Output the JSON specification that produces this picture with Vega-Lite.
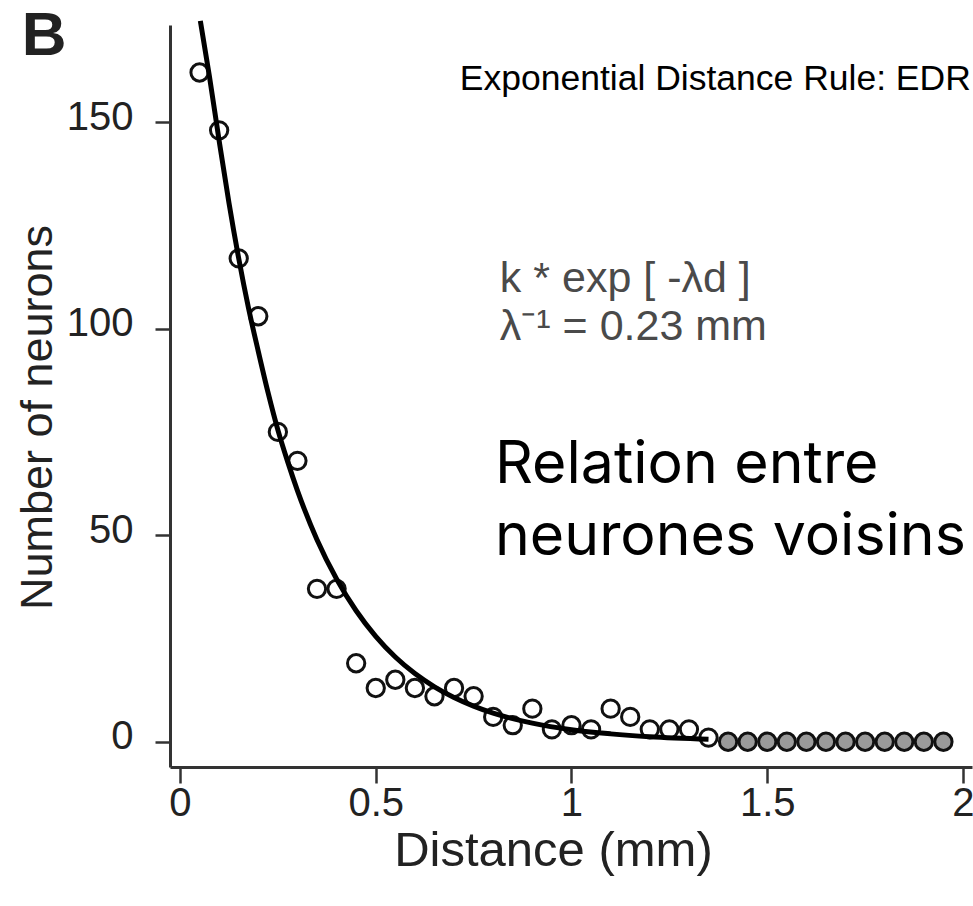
{
  "$schema": "https://vega.github.io/schema/vega-lite/v6.json",
  "width": 802,
  "height": 742,
  "autosize": {"type": "none"},
  "padding": {"left": 170, "top": 25, "right": 1, "bottom": 139},
  "background": "white",
  "config": {"view": {"stroke": null}, "font": "Liberation Sans"},
  "datasets": {
    "counts": [
      {"distance": 0.05, "neurons": 162}, {"distance": 0.10, "neurons": 148},
      {"distance": 0.15, "neurons": 117}, {"distance": 0.20, "neurons": 103},
      {"distance": 0.25, "neurons": 75}, {"distance": 0.30, "neurons": 68},
      {"distance": 0.35, "neurons": 37}, {"distance": 0.40, "neurons": 37},
      {"distance": 0.45, "neurons": 19}, {"distance": 0.50, "neurons": 13},
      {"distance": 0.55, "neurons": 15}, {"distance": 0.60, "neurons": 13},
      {"distance": 0.65, "neurons": 11}, {"distance": 0.70, "neurons": 13},
      {"distance": 0.75, "neurons": 11}, {"distance": 0.80, "neurons": 6},
      {"distance": 0.85, "neurons": 4}, {"distance": 0.90, "neurons": 8},
      {"distance": 0.95, "neurons": 3}, {"distance": 1.00, "neurons": 4},
      {"distance": 1.05, "neurons": 3}, {"distance": 1.10, "neurons": 8},
      {"distance": 1.15, "neurons": 6}, {"distance": 1.20, "neurons": 3},
      {"distance": 1.25, "neurons": 3}, {"distance": 1.30, "neurons": 3},
      {"distance": 1.35, "neurons": 1}, {"distance": 1.40, "neurons": 0},
      {"distance": 1.45, "neurons": 0}, {"distance": 1.50, "neurons": 0},
      {"distance": 1.55, "neurons": 0}, {"distance": 1.60, "neurons": 0},
      {"distance": 1.65, "neurons": 0}, {"distance": 1.70, "neurons": 0},
      {"distance": 1.75, "neurons": 0}, {"distance": 1.80, "neurons": 0},
      {"distance": 1.85, "neurons": 0}, {"distance": 1.90, "neurons": 0},
      {"distance": 1.95, "neurons": 0}
    ],
    "fit": [
      {"distance": 0.052, "neurons": 174.5}, {"distance": 0.075, "neurons": 161.2},
      {"distance": 0.10, "neurons": 145.5}, {"distance": 0.125, "neurons": 130.5},
      {"distance": 0.15, "neurons": 117}, {"distance": 0.175, "neurons": 105},
      {"distance": 0.20, "neurons": 94.5}, {"distance": 0.225, "neurons": 84.5},
      {"distance": 0.25, "neurons": 75.5}, {"distance": 0.275, "neurons": 67.8},
      {"distance": 0.30, "neurons": 60.8}, {"distance": 0.35, "neurons": 48.9},
      {"distance": 0.40, "neurons": 39.4}, {"distance": 0.45, "neurons": 31.7},
      {"distance": 0.50, "neurons": 25.5}, {"distance": 0.55, "neurons": 20.5},
      {"distance": 0.60, "neurons": 16.5}, {"distance": 0.65, "neurons": 13.3},
      {"distance": 0.70, "neurons": 10.7}, {"distance": 0.75, "neurons": 8.6},
      {"distance": 0.80, "neurons": 6.9}, {"distance": 0.90, "neurons": 4.5},
      {"distance": 1.00, "neurons": 2.9}, {"distance": 1.10, "neurons": 1.9},
      {"distance": 1.20, "neurons": 1.2}, {"distance": 1.35, "neurons": 0.6}
    ]
  },
  "layer": [
    {
      "data": {"name": "counts"},
      "mark": {"type": "point", "shape": "circle", "filled": true, "size": 300, "stroke": "#111111", "strokeWidth": 3, "opacity": 1},
      "encoding": {
        "x": {
          "field": "distance",
          "type": "quantitative",
          "title": "Distance (mm)",
          "scale": {"domain": [-0.0255, 2.023], "nice": false, "zero": false},
          "axis": {
            "values": [0, 0.5, 1, 1.5, 2],
            "format": "~g",
            "grid": false,
            "labelFlush": false,
            "labelOverlap": false,
            "domainColor": "#333333",
            "domainWidth": 3,
            "tickColor": "#333333",
            "tickWidth": 2.5,
            "tickSize": 16,
            "labelFont": "Liberation Sans",
            "labelFontSize": 40,
            "labelColor": "#222222",
            "labelPadding": 0,
            "titleFont": "Liberation Sans",
            "titleFontSize": 49,
            "titleFontWeight": "normal",
            "titleColor": "#222222",
            "titlePadding": 3,
            "titleX": 383
          }
        },
        "y": {
          "field": "neurons",
          "type": "quantitative",
          "title": "Number of neurons",
          "scale": {"domain": [-6.12, 173.5], "nice": false, "zero": false},
          "axis": {
            "values": [0, 50, 100, 150],
            "grid": false,
            "labelFlush": false,
            "labelOverlap": false,
            "domainColor": "#333333",
            "domainWidth": 3,
            "tickColor": "#333333",
            "tickWidth": 2.5,
            "tickSize": 15,
            "labelFont": "Liberation Sans",
            "labelFontSize": 40,
            "labelColor": "#222222",
            "labelPadding": 22,
            "labelOffset": -5,
            "titleFont": "Liberation Sans",
            "titleFontSize": 45,
            "titleFontWeight": "normal",
            "titleColor": "#222222",
            "titlePadding": 6,
            "titleY": 392
          }
        },
        "fill": {"condition": {"test": "datum.neurons === 0", "value": "#9a9a9a"}, "value": "#ffffff"}
      }
    },
    {
      "data": {"name": "fit"},
      "mark": {"type": "line", "color": "#000000", "strokeWidth": 5, "interpolate": "monotone"},
      "encoding": {
        "x": {"field": "distance", "type": "quantitative", "title": "Distance (mm)"},
        "y": {"field": "neurons", "type": "quantitative", "title": "Number of neurons"}
      }
    },
    {
      "data": {"values": [{"label": "B"}]},
      "mark": {"type": "text", "font": "Liberation Sans", "fontSize": 62, "fontWeight": "bold", "color": "#222222", "align": "left", "baseline": "alphabetic"},
      "encoding": {"text": {"field": "label"}, "x": {"datum": -0.404}, "y": {"datum": 166.2}}
    },
    {
      "data": {"values": [{"label": "Exponential Distance Rule: EDR"}]},
      "mark": {"type": "text", "font": "Liberation Sans", "fontSize": 35.5, "color": "#000000", "align": "right", "baseline": "alphabetic"},
      "encoding": {"text": {"field": "label"}, "x": {"datum": 2.02}, "y": {"datum": 157.8}}
    },
    {
      "data": {"values": [{"label": ["k * exp [ -λd ]", "λ⁻¹ = 0.23 mm"]}]},
      "mark": {"type": "text", "font": "Liberation Sans", "fontSize": 43, "lineHeight": 48, "color": "#4a4a4a", "align": "left", "baseline": "alphabetic"},
      "encoding": {"text": {"field": "label"}, "x": {"datum": 0.817}, "y": {"datum": 108.8}}
    },
    {
      "data": {"values": [{"label": ["Relation entre", "neurones voisins"]}]},
      "mark": {"type": "text", "font": "Inter", "fontSize": 59, "lineHeight": 72, "color": "#000000", "align": "left", "baseline": "alphabetic"},
      "encoding": {"text": {"field": "label"}, "x": {"datum": 0.8046}, "y": {"datum": 62.6}}
    }
  ]
}
